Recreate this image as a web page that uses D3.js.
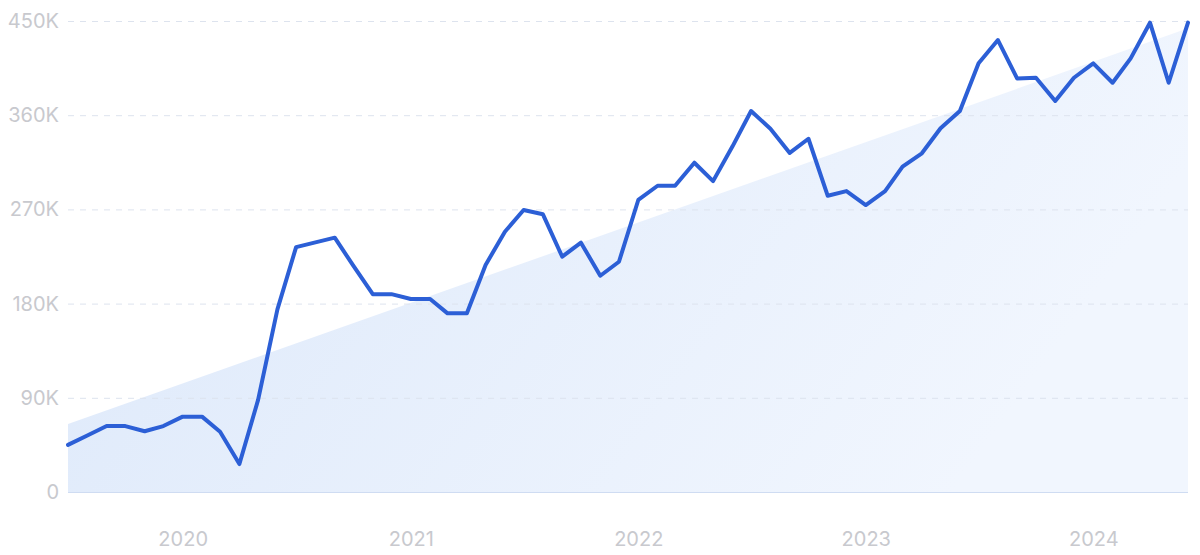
<!DOCTYPE html>
<html>
<head>
<meta charset="utf-8">
<script src="https://cdn.jsdelivr.net/npm/d3@7"></script>
<style>
  html, body { margin: 0; padding: 0; background: #ffffff; }
  svg { display: block; }
</style>
</head>
<body>
<svg id="chart" width="1200" height="555"></svg>
<script>
// Monthly values, Jul 2019 – Jun 2024
const startMonth = "2019-07";
const values = [
  45000, 54000, 63000, 63000, 58000, 63000, 72000, 72000, 57600, 26700,
  88000, 174500, 234000, 238500, 243000, 216000, 189000, 189000, 184400, 184400,
  170700, 170700, 216900, 248700, 269400, 265300, 224800, 238200, 206600, 220000,
  279000, 292600, 292600, 314600, 297000, 330000, 364000, 347000, 324000, 337500,
  283000, 287500, 274200, 287500, 310800, 323600, 347500, 364000, 409600, 431800,
  395000, 395800, 373600, 395800, 409600, 391000, 414300, 448400, 391000, 448400
];
// Trend line endpoints (start, end)
const trendValues = [65000, 443000];
const yTicks = [0, 90000, 180000, 270000, 360000, 450000];
const yTickLabels = ["0", "90K", "180K", "270K", "360K", "450K"];
const xTickYears = [2020, 2021, 2022, 2023, 2024];

const svg = d3.select("#chart");
const margin = { left: 68, right: 12, top: 21, bottom: 63 };
const W = 1200, H = 555;

const parse = d3.timeParse("%Y-%m");
const t0 = parse(startMonth);
const dates = values.map((v, i) => d3.timeMonth.offset(t0, i));

const x = d3.scaleTime()
  .domain([dates[0], dates[dates.length - 1]])
  .range([margin.left, W - margin.right]);
const y = d3.scaleLinear()
  .domain([0, 450000])
  .range([H - margin.bottom, margin.top]);

// Gradient
const defs = svg.append("defs");
const grad = defs.append("linearGradient")
  .attr("id", "trendFill")
  .attr("x1", "0%").attr("y1", "0%").attr("x2", "100%").attr("y2", "30%");
grad.append("stop").attr("offset", "0%").attr("stop-color", "#dce8fa");
grad.append("stop").attr("offset", "100%").attr("stop-color", "#f1f6fe");

// Trend area
const trendData = [
  { d: dates[0], v: trendValues[0] },
  { d: dates[dates.length - 1], v: trendValues[1] }
];
svg.append("path")
  .datum(trendData)
  .attr("fill", "url(#trendFill)")
  .attr("d", d3.area().x(d => x(d.d)).y0(y(0)).y1(d => y(d.v)));

// Gridlines
const yAxis = d3.axisLeft(y)
  .tickValues(yTicks)
  .tickFormat((d, i) => yTickLabels[i])
  .tickSize(-(W - margin.right - margin.left))
  .tickPadding(10);
const gy = svg.append("g")
  .attr("transform", `translate(${margin.left},0)`)
  .call(yAxis);
gy.select(".domain").remove();
gy.selectAll(".tick line")
  .attr("stroke", "#dde3ee")
  .attr("stroke-width", 1)
  .attr("stroke-dasharray", "6,6")
  .filter(d => d === 0).attr("stroke", "#cfdcf2").attr("stroke-dasharray", null);
gy.selectAll(".tick text")
  .attr("fill", "#c8c9ce")
  .attr("font-family", "Inter, 'Noto Sans', sans-serif")
  .attr("font-weight", 400)
  .attr("font-size", "20px")
  .attr("x", -9);

// X axis
const xAxis = d3.axisBottom(x)
  .tickValues(xTickYears.map(yr => new Date(yr, 0, 1)))
  .tickFormat(d3.timeFormat("%Y"))
  .tickSize(0)
  .tickPadding(40);
const gx = svg.append("g")
  .attr("transform", `translate(0,${H - margin.bottom})`)
  .call(xAxis);
gx.select(".domain").remove();
gx.selectAll(".tick text")
  .attr("fill", "#c8c9ce")
  .attr("font-family", "Inter, 'Noto Sans', sans-serif")
  .attr("font-weight", 400)
  .attr("font-size", "20px");

// Line
svg.append("path")
  .datum(values)
  .attr("fill", "none")
  .attr("stroke", "#2c5fd6")
  .attr("stroke-width", 4)
  .attr("stroke-linejoin", "round")
  .attr("stroke-linecap", "round")
  .attr("d", d3.line().x((d, i) => x(dates[i])).y(d => y(d)));
</script>
</body>
</html>
